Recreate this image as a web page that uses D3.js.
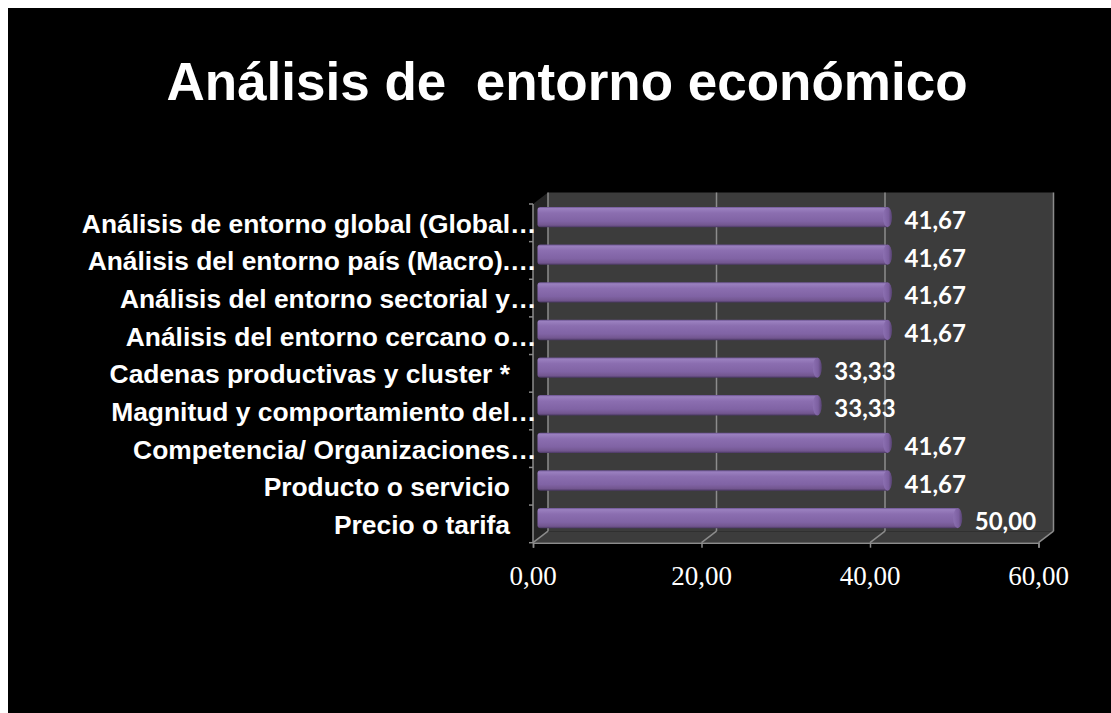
<!DOCTYPE html>
<html>
<head>
<meta charset="utf-8">
<script src="https://cdn.jsdelivr.net/npm/d3@7"></script>
<style>
  html, body { margin: 0; padding: 0; background: #ffffff; }
  svg { display: block; }
</style>
</head>
<body>
<svg id="chart" width="1111" height="713"></svg>
<script>
// Chart data
const chartTitle = "Análisis de  entorno económico";
const categories = [
  "Análisis de entorno global (Global…",
  "Análisis del entorno país (Macro).…",
  "Análisis del entorno sectorial y…",
  "Análisis del entorno cercano o…",
  "Cadenas productivas y cluster *",
  "Magnitud y comportamiento del…",
  "Competencia/ Organizaciones…",
  "Producto o servicio",
  "Precio o tarifa"
];
const values = [41.67, 41.67, 41.67, 41.67, 33.33, 33.33, 41.67, 41.67, 50.00];
const xTicks = [0, 20, 40, 60];

const svg = d3.select("#chart");

// slide background
svg.append("rect")
  .attr("x", 8).attr("y", 8)
  .attr("width", 1103).attr("height", 705)
  .attr("fill", "#000000");

// title
svg.append("text")
  .attr("x", 567).attr("y", 100)
  .attr("text-anchor", "middle")
  .style("white-space", "pre")
  .attr("font-family", "'Liberation Sans', Arial, sans-serif")
  .attr("font-weight", "bold")
  .attr("font-size", 53)
  .attr("fill", "#ffffff")
  .text(chartTitle);

// scales (front plane), with a depth offset for the 3D box
const x = d3.scaleLinear().domain([0, 60]).range([533, 1038.5]);
const y = d3.scaleBand().domain(categories).range([204, 542.7])
  .paddingInner(0.46).paddingOuter(0.23);
const dx = 15, dy = -11.5;
const plotTop = 204, plotBottom = 542.7;
const x0 = x(0), x60 = x(60);

const defs = svg.append("defs");
const barGrad = defs.append("linearGradient")
  .attr("id", "barGrad").attr("x1", 0).attr("y1", 0).attr("x2", 0).attr("y2", 1);
[[0, "#6a5290"], [0.08, "#9a80bf"], [0.3, "#8b6eb0"], [0.7, "#8063a4"], [0.9, "#72568f"], [1, "#4a3863"]]
  .forEach(([o, c]) => barGrad.append("stop").attr("offset", o).attr("stop-color", c));
const capGrad = defs.append("linearGradient")
  .attr("id", "capGrad").attr("x1", 0).attr("y1", 0).attr("x2", 1).attr("y2", 0);
[[0, "#8c70b2"], [0.6, "#7c5fa0"], [1, "#55426f"]]
  .forEach(([o, c]) => capGrad.append("stop").attr("offset", o).attr("stop-color", c));

const gridColor = "#8c8c8c";

// back wall
svg.append("rect")
  .attr("x", x0 + dx).attr("y", plotTop + dy)
  .attr("width", x60 - x0).attr("height", plotBottom - plotTop)
  .attr("fill", "#3c3c3c");

// side wall
svg.append("polygon")
  .attr("points", [[x0, plotTop], [x0 + dx, plotTop + dy], [x0 + dx, plotBottom + dy], [x0, plotBottom]].join(" "))
  .attr("fill", "#252525");

// floor
svg.append("polygon")
  .attr("points", [[x0, plotBottom], [x0 + dx, plotBottom + dy], [x60 + dx, plotBottom + dy], [x60, plotBottom]].join(" "))
  .attr("fill", "#3c3c3c");

// gridlines on the back wall
svg.append("g").selectAll("line").data(xTicks).join("line")
  .attr("x1", d => x(d) + dx).attr("x2", d => x(d) + dx)
  .attr("y1", plotTop + dy).attr("y2", plotBottom + dy)
  .attr("stroke", gridColor).attr("stroke-width", 1.5);

// floor depth lines
svg.append("g").selectAll("line").data(xTicks).join("line")
  .attr("x1", d => x(d)).attr("x2", d => x(d) + dx)
  .attr("y1", plotBottom).attr("y2", plotBottom + dy)
  .attr("stroke", gridColor).attr("stroke-width", 1.5);

// bottom axis
const xAxis = svg.append("g").attr("transform", `translate(0,${plotBottom})`)
  .call(d3.axisBottom(x).tickValues(xTicks).tickSize(5).tickFormat(""));
xAxis.selectAll("path, line").attr("stroke", gridColor).attr("stroke-width", 1.5);

svg.append("g").selectAll("text").data(xTicks).join("text")
  .attr("x", d => x(d)).attr("y", 585)
  .attr("text-anchor", "middle")
  .attr("font-family", "'Liberation Serif', 'Times New Roman', serif")
  .attr("font-size", 27)
  .attr("fill", "#ffffff")
  .text(d => d3.format(".2f")(d).replace(".", ","));

// left axis with category boundary ticks
svg.append("line")
  .attr("x1", x0).attr("x2", x0).attr("y1", plotTop).attr("y2", plotBottom)
  .attr("stroke", gridColor).attr("stroke-width", 1.5);
const boundaries = d3.range(categories.length + 1).map(i => plotTop + i * y.step());
svg.append("g").selectAll("line").data(boundaries).join("line")
  .attr("x1", x0 - 4).attr("x2", x0)
  .attr("y1", d => d).attr("y2", d => d)
  .attr("stroke", gridColor).attr("stroke-width", 1.5);

// bars (placed at mid depth)
const bw = y.bandwidth();
const rows = categories.map((c, i) => ({ c, v: values[i] }));
const barCy = d => y(d.c) + bw / 2 + dy / 2;
const barStart = x0 + dx / 2;
const barEnd = d => x(d.v) + dx / 2;

const bars = svg.append("g").selectAll("g").data(rows).join("g");
bars.append("rect")
  .attr("x", barStart - 3)
  .attr("y", d => barCy(d) - bw / 2)
  .attr("width", d => barEnd(d) - barStart)
  .attr("height", bw)
  .attr("rx", 3).attr("ry", 3)
  .attr("fill", "url(#barGrad)");
bars.append("ellipse")
  .attr("cx", d => barEnd(d) - 4)
  .attr("cy", d => barCy(d))
  .attr("rx", 4.5).attr("ry", bw / 2)
  .attr("fill", "url(#capGrad)");

// value labels
svg.append("g").selectAll("text").data(rows).join("text")
  .attr("x", d => barEnd(d) + 13)
  .attr("y", d => barCy(d) + 12)
  .attr("font-family", "Lato, 'Open Sans', sans-serif")
  .attr("font-weight", "bold")
  .attr("font-size", 24)
  .attr("fill", "#ffffff")
  .text(d => d3.format(".2f")(d.v).replace(".", ","));

// category labels: truncated names let their ellipsis run past the label box
const labelFont = "'Liberation Sans', Arial, sans-serif";
const probe = svg.append("text")
  .attr("font-family", labelFont).attr("font-weight", "bold").attr("font-size", 26.4)
  .text("…");
const ellipsisW = probe.node().getComputedTextLength();
probe.remove();

svg.append("g").selectAll("text").data(categories).join("text")
  .attr("x", d => 510 + (d.endsWith("…") ? ellipsisW : 0))
  .attr("y", d => y(d) + bw / 2 + 10)
  .attr("text-anchor", "end")
  .attr("font-family", labelFont)
  .attr("font-weight", "bold")
  .attr("font-size", 26.4)
  .attr("fill", "#ffffff")
  .text(d => d);
</script>
</body>
</html>
